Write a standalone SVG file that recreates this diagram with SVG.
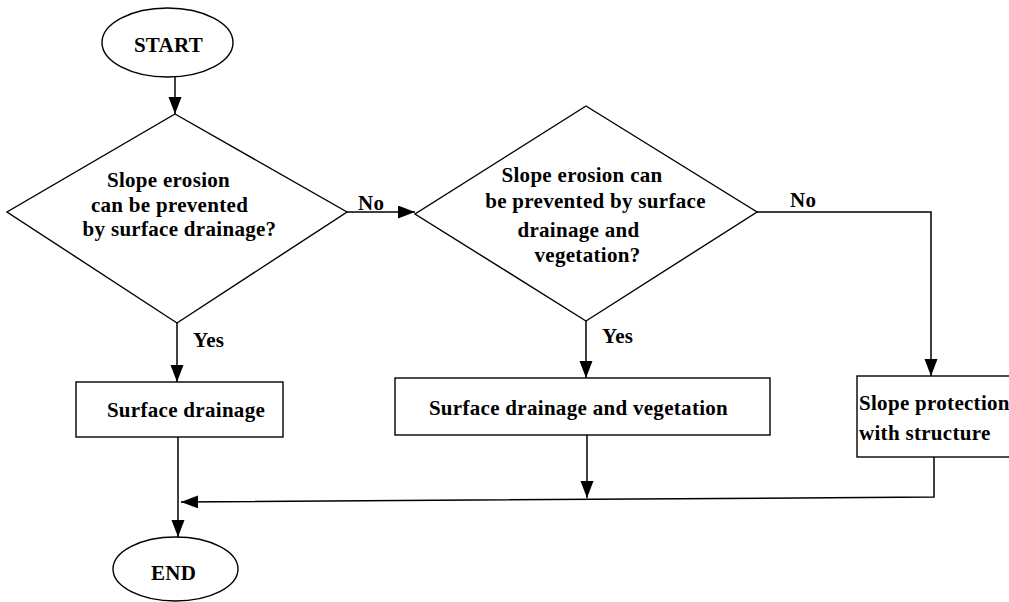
<svg xmlns="http://www.w3.org/2000/svg" width="1009" height="602" viewBox="0 0 1009 602">
  <defs>
    <style>
      .shape { fill: #ffffff; stroke: #000000; stroke-width: 1.4; }
      .link { fill: none; stroke: #000000; stroke-width: 1.5; }
      .label { font-family: "Liberation Serif", "Times New Roman", serif; font-weight: bold; font-size: 21px; letter-spacing: 0.3px; fill: #000000; }
      .mid { text-anchor: middle; }
    </style>
    <marker id="arrow" markerUnits="userSpaceOnUse" markerWidth="18" markerHeight="14" refX="17" refY="6.5" orient="auto">
      <path d="M0,0 L17,6.5 L0,13 Z" fill="#000000"/>
    </marker>
  </defs>

  <rect width="1009" height="602" fill="#ffffff"/>

  <!-- connectors -->
  <g id="connectors">
    <path class="link" d="M175,77 L175,114" marker-end="url(#arrow)"/>
    <path class="link" d="M347,212 L415,212" marker-end="url(#arrow)"/>
    <path class="link" d="M757,212 L931,212 L931,376" marker-end="url(#arrow)"/>
    <path class="link" d="M177,323 L177,382" marker-end="url(#arrow)"/>
    <path class="link" d="M586,321 L586,378" marker-end="url(#arrow)"/>
    <path class="link" d="M178,437 L178,537" marker-end="url(#arrow)"/>
    <path class="link" d="M587,435 L587,498" marker-end="url(#arrow)"/>
    <path class="link" d="M934,457 L934,497 L181,502" marker-end="url(#arrow)"/>
    <text class="label" x="358" y="210">No</text>
    <text class="label" x="790" y="207">No</text>
    <text class="label" x="193" y="347">Yes</text>
    <text class="label" x="602" y="343">Yes</text>
  </g>

  <g id="start">
    <ellipse class="shape" cx="167.5" cy="42.5" rx="65.5" ry="34.5"/>
    <text class="label mid" x="168.5" y="52">START</text>
  </g>

  <g id="decision-drainage">
    <polygon class="shape" points="175,114 347,212 177,323 7,212"/>
    <text class="label mid" x="168.5" y="187">Slope erosion</text>
    <text class="label mid" x="169.5" y="212">can be prevented</text>
    <text class="label mid" x="179.5" y="236">by surface drainage?</text>
  </g>

  <g id="decision-vegetation">
    <polygon class="shape" points="586,106 757,212 586,321 415,214"/>
    <text class="label mid" x="582" y="182">Slope erosion can</text>
    <text class="label mid" x="595.5" y="208">be prevented by surface</text>
    <text class="label mid" x="578.5" y="237">drainage and</text>
    <text class="label mid" x="587.5" y="262">vegetation?</text>
  </g>

  <g id="surface-drainage">
    <rect class="shape" x="76" y="382" width="207" height="55"/>
    <text class="label mid" x="186" y="417">Surface drainage</text>
  </g>

  <g id="drainage-vegetation">
    <rect class="shape" x="395" y="378" width="375" height="57"/>
    <text class="label mid" x="578.5" y="415">Surface drainage and vegetation</text>
  </g>

  <g id="slope-protection">
    <rect class="shape" x="857" y="376" width="160" height="81"/>
    <text class="label" x="859" y="410">Slope protection</text>
    <text class="label" x="859" y="440">with structure</text>
  </g>

  <g id="end">
    <ellipse class="shape" cx="175.5" cy="569" rx="62.5" ry="32"/>
    <text class="label mid" x="173.5" y="580">END</text>
  </g>
</svg>
